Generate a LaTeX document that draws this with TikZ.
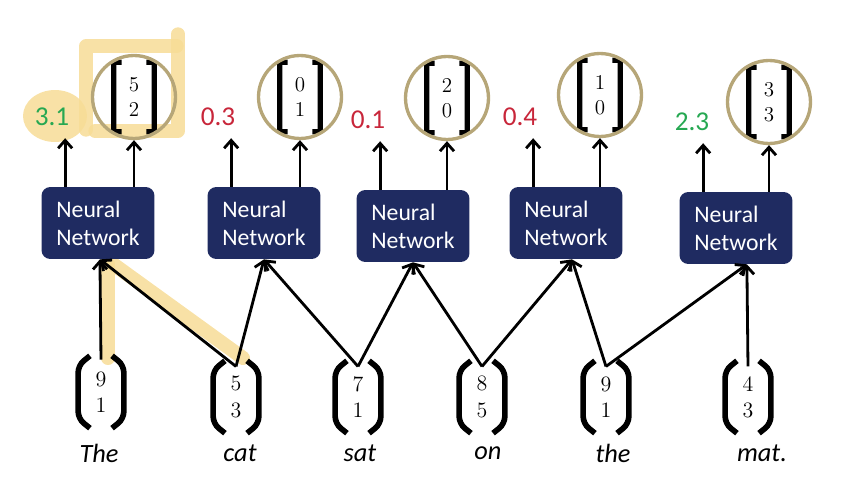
\documentclass[tikz,border=0pt]{standalone}
\usepackage{fontspec}
\usetikzlibrary{arrows.meta}
\newfontfamily\carlito{Carlito}

\definecolor{nnblue}{RGB}{31,43,97}
\definecolor{ringtan}{RGB}{182,166,120}
\definecolor{scorered}{RGB}{200,38,58}
\definecolor{scoregreen}{RGB}{38,168,82}
\definecolor{marker}{RGB}{247,220,150}

\tikzset{
    arr/.style={-{Straight Barb[length=4.5pt,width=8pt]}, line width=1.6pt},
    nnbox/.style={fill=nnblue, rounded corners=5pt, text=white, align=left,
        minimum width=2.26cm, minimum height=1.44cm, inner sep=0pt,
        font=\carlito\fontsize{13.5}{16}\selectfont},
    score/.style={inner sep=1pt, outer sep=6pt, font=\carlito\fontsize{15.5}{18}\selectfont},
    word/.style={font=\carlito\itshape\fontsize{15}{17}\selectfont},
    ring/.style={circle, draw=ringtan, line width=1.9pt, minimum size=1.66cm, inner sep=0pt},
    invec/.style={minimum width=1.04cm, minimum height=1.56cm, inner sep=0pt, align=center,
        font=\fontsize{12.5}{15}\selectfont,
        path picture={
            \draw[line width=3.2pt, rounded corners=4pt]
                ([xshift=8.5pt,yshift=-1.6pt]path picture bounding box.north west)
                -- ([xshift=1.8pt,yshift=-7pt]path picture bounding box.north west)
                -- ([xshift=1.8pt,yshift=7pt]path picture bounding box.south west)
                -- ([xshift=8.5pt,yshift=1.6pt]path picture bounding box.south west);
            \draw[line width=3.2pt, rounded corners=4pt]
                ([xshift=-8.5pt,yshift=-1.6pt]path picture bounding box.north east)
                -- ([xshift=-1.8pt,yshift=-7pt]path picture bounding box.north east)
                -- ([xshift=-1.8pt,yshift=7pt]path picture bounding box.south east)
                -- ([xshift=-8.5pt,yshift=1.6pt]path picture bounding box.south east);
        }},
    outvec/.style={minimum width=0.92cm, minimum height=1.5cm, inner sep=0pt, align=center,
        font=\fontsize{12}{14}\selectfont,
        path picture={
            \draw[line width=3pt, rounded corners=1pt]
                ([xshift=6pt,yshift=-1.5pt]path picture bounding box.north west)
                -- ([xshift=1.5pt,yshift=-1.5pt]path picture bounding box.north west)
                -- ([xshift=1.5pt,yshift=1.5pt]path picture bounding box.south west)
                -- ([xshift=6pt,yshift=1.5pt]path picture bounding box.south west);
            \draw[line width=3pt, rounded corners=1pt]
                ([xshift=-6pt,yshift=-1.5pt]path picture bounding box.north east)
                -- ([xshift=-1.5pt,yshift=-1.5pt]path picture bounding box.north east)
                -- ([xshift=-1.5pt,yshift=1.5pt]path picture bounding box.south east)
                -- ([xshift=-6pt,yshift=1.5pt]path picture bounding box.south east);
        }},
    hl/.style={draw=marker, opacity=0.85, line cap=round, line join=round}
}

\begin{document}
\begin{tikzpicture}[x=0.02cm, y=-0.02cm]
    \useasboundingbox (0,0) rectangle (860,501);

    % marker strokes
    \fill[marker, opacity=0.85] (55,116) ellipse [x radius=32, y radius=26];
    \draw[hl, line width=7.6pt] (86,130) -- (86,46) -- (177,46);
    \draw[hl, line width=7.6pt] (178,34) -- (178,131) -- (95,131);
    \draw[hl, line width=8pt] (108,264) -- (108,358);
    \draw[hl, line width=8pt] (113,264) -- (243,358);

    % networks
    \node[nnbox] (nn1) at (98,223)  {Neural\\Network};
    \node[nnbox] (nn2) at (264,223) {Neural\\Network};
    \node[nnbox] (nn3) at (413,226) {Neural\\Network};
    \node[nnbox] (nn4) at (566,223) {Neural\\Network};
    \node[nnbox] (nn5) at (736,228) {Neural\\Network};

    % scores
    \node[score, scoregreen] (s1) at (52,117)  {3.1};
    \node[score, scorered]   (s2) at (218,117) {0.3};
    \node[score, scorered]   (s3) at (368,120) {0.1};
    \node[score, scorered]   (s4) at (520,117) {0.4};
    \node[score, scoregreen] (s5) at (692,122) {2.3};

    % output vectors
    \node[outvec] (m1) at (134,97)  {5\\2};
    \node[outvec] (m2) at (300,97)  {0\\1};
    \node[outvec] (m3) at (447,98)  {2\\0};
    \node[outvec] (m4) at (600,95)  {1\\0};
    \node[outvec] (m5) at (769,102) {3\\3};
    \node[ring] (o1) at (m1) {};
    \node[ring] (o2) at (m2) {};
    \node[ring] (o3) at (m3) {};
    \node[ring] (o4) at (m4) {};
    \node[ring] (o5) at (m5) {};

    % input vectors
    \node[invec] (v1) at (101,392) {9\\1};
    \node[invec] (v2) at (236,397) {5\\3};
    \node[invec] (v3) at (358,397) {7\\1};
    \node[invec] (v4) at (482,397) {8\\5};
    \node[invec] (v5) at (606,397) {9\\1};
    \node[invec] (v6) at (748,397) {4\\3};

    \node[word] (w1) at (99,453)  {The};
    \node[word] (w2) at (240,453) {cat};
    \node[word] (w3) at (360,453) {sat};
    \node[word] (w4) at (488,453) {on};
    \node[word] (w5) at (613,453) {the};
    \node[word] (w6) at (762,453) {mat.};

    % network outputs
    \draw[arr] ([xshift=-18.7pt]nn1.north) -- ([xshift=-18.7pt]nn1.north |- s1.south);
    \draw[arr] ([xshift=-18.7pt]nn2.north) -- ([xshift=-18.7pt]nn2.north |- s2.south);
    \draw[arr] ([xshift=-18.7pt]nn3.north) -- ([xshift=-18.7pt]nn3.north |- s3.south);
    \draw[arr] ([xshift=-18.7pt]nn4.north) -- ([xshift=-18.7pt]nn4.north |- s4.south);
    \draw[arr] ([xshift=-18.7pt]nn5.north) -- ([xshift=-18.7pt]nn5.north |- s5.south);
    \draw[arr] (nn1.north -| o1.south) -- (o1.south);
    \draw[arr] (nn2.north -| o2.south) -- (o2.south);
    \draw[arr] (nn3.north -| o3.south) -- (o3.south);
    \draw[arr] (nn4.north -| o4.south) -- (o4.south);
    \draw[arr] (nn5.north -| o5.south) -- (o5.south);

    % network inputs
    \draw[arr] ([yshift=-4pt]v1.north) -- ([xshift=1.1pt]nn1.south);
    \draw[arr] ([yshift=-5pt]v2.north) -- ([xshift=1.1pt]nn1.south);
    \draw[arr] ([yshift=-5pt]v2.north) -- (nn2.south);
    \draw[arr] ([yshift=-5pt]v3.north) -- (nn2.south);
    \draw[arr] ([yshift=-5pt]v3.north) -- (nn3.south);
    \draw[arr] ([yshift=-5pt]v4.north) -- (nn3.south);
    \draw[arr] ([yshift=-5pt]v4.north) -- ([xshift=3.4pt]nn4.south);
    \draw[arr] ([yshift=-5pt]v5.north) -- ([xshift=3.4pt]nn4.south);
    \draw[arr] ([yshift=-5pt]v5.north) -- ([xshift=6.2pt]nn5.south);
    \draw[arr] ([yshift=-5pt]v6.north) -- ([xshift=6.2pt]nn5.south);
\end{tikzpicture}
\end{document}
